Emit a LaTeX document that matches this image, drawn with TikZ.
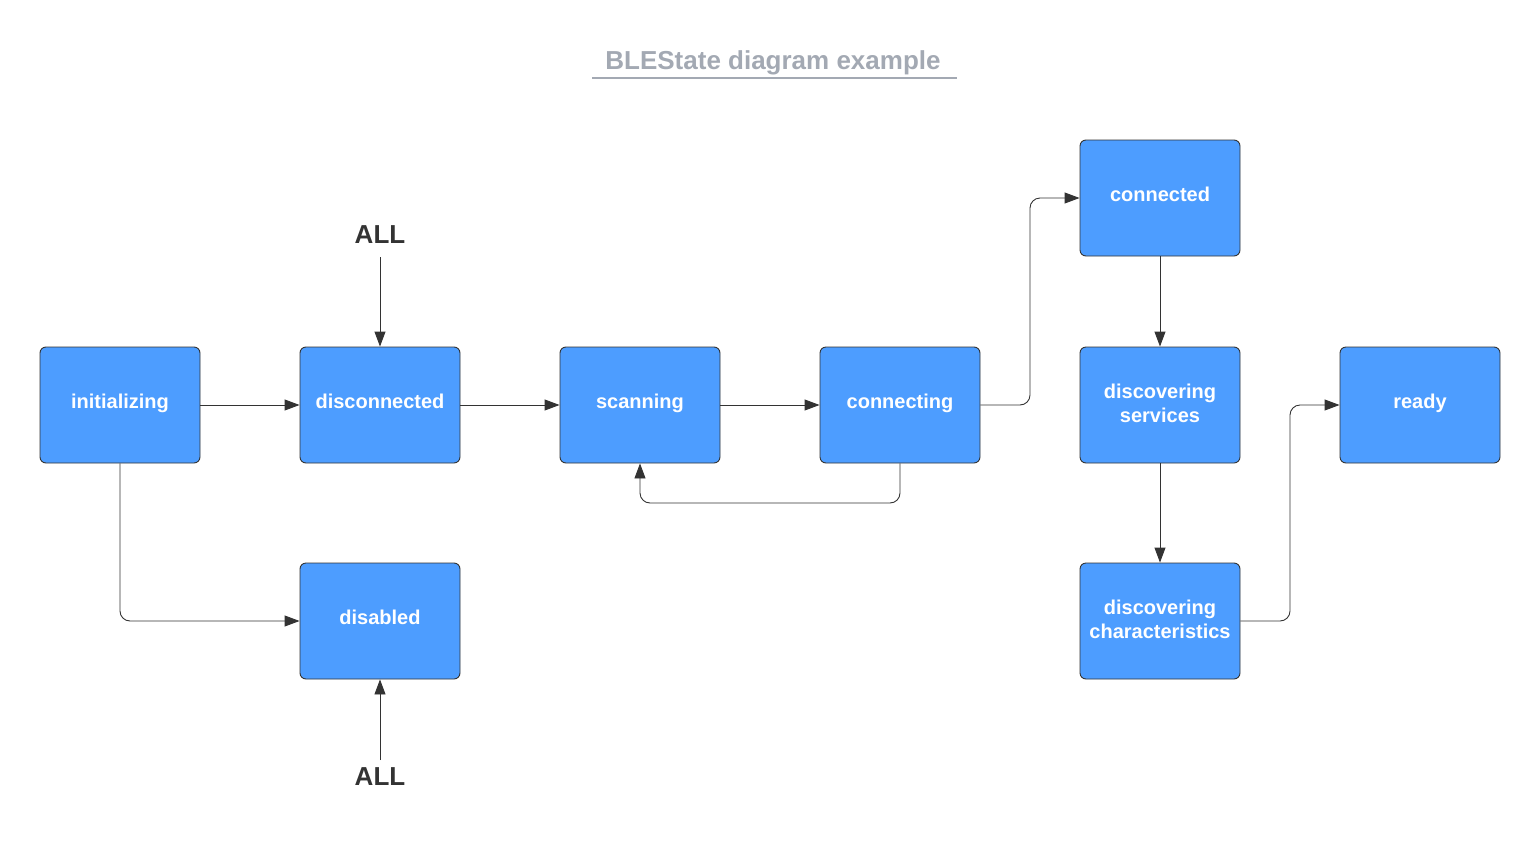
\documentclass[tikz,border=0pt]{standalone}
\usepackage{fontspec}
\setmainfont{Liberation Sans}
\usetikzlibrary{arrows.meta}
\definecolor{boxblue}{RGB}{77,157,255}
\definecolor{edge}{RGB}{51,51,51}
\definecolor{titlegrey}{RGB}{163,169,179}
\tikzset{
  state/.style={draw=edge, line width=0.9pt, fill=boxblue, rounded corners=6pt,
    minimum width=160pt, minimum height=116pt, inner sep=0pt,
    text height=14pt, text depth=8pt,
    text=white, font=\fontsize{20pt}{24pt}\selectfont\bfseries, align=center},
  twoline/.style={text height=, text depth=4pt},
  conn/.style={draw=edge, line width=0.9pt, rounded corners=10pt,
    -{Triangle[length=15pt,width=11pt]}},
  alltxt/.style={text=edge, font=\fontsize{26pt}{30pt}\selectfont\bfseries, inner sep=0pt}
}
\begin{document}
\begin{tikzpicture}[x=1pt,y=-1pt]
\useasboundingbox (0,0) rectangle (1540,841);
\node[text=titlegrey, font=\fontsize{26pt}{30pt}\selectfont\bfseries, inner sep=0pt] (title) at (773,63) {BLEState diagram example};
\draw[titlegrey, line width=1.5pt] (592,78) coordinate (ul1) -- (957,78) coordinate (ul2);

\node[state] (init) at (120,405) {initializing};
\node[state] (disc) at (380,405) {disconnected};
\node[state] (scan) at (640,405) {scanning};
\node[state] (cing) at (900,405) {connecting};
\node[state] (cted) at (1160,198) {connected};
\node[state, twoline] (dserv) at (1160,405) {discovering\\services};
\node[state] (ready) at (1420,405) {ready};
\node[state] (disab) at (380,621) {disabled};
\node[state, twoline] (dchar) at (1160,621) {discovering\\characteristics};

\node[alltxt] (alltop) at (380,235) {ALL};
\node[alltxt] (allbot) at (380,777) {ALL};

\draw[conn] (init.east) -- (disc.west);
\draw[conn] (disc.east) -- (scan.west);
\draw[conn] (scan.east) -- (cing.west);
\draw[conn] (alltop.south |- 0,257) -- (disc.north);
\draw[conn] (allbot.north |- 0,760) -- (disab.south);
\draw[conn] (cing.east) -- (1030,405) -- (1030,198) -- (cted.west);
\draw[conn] (cing.south) -- (900,503) -- (640,503) -- (scan.south);
\draw[conn] (cted.south) -- (dserv.north);
\draw[conn] (dserv.south) -- (dchar.north);
\draw[conn] (dchar.east) -- (1290,621) -- (1290,405) -- (ready.west);
\draw[conn] (init.south) -- (120,621) -- (disab.west);
\end{tikzpicture}
\end{document}
